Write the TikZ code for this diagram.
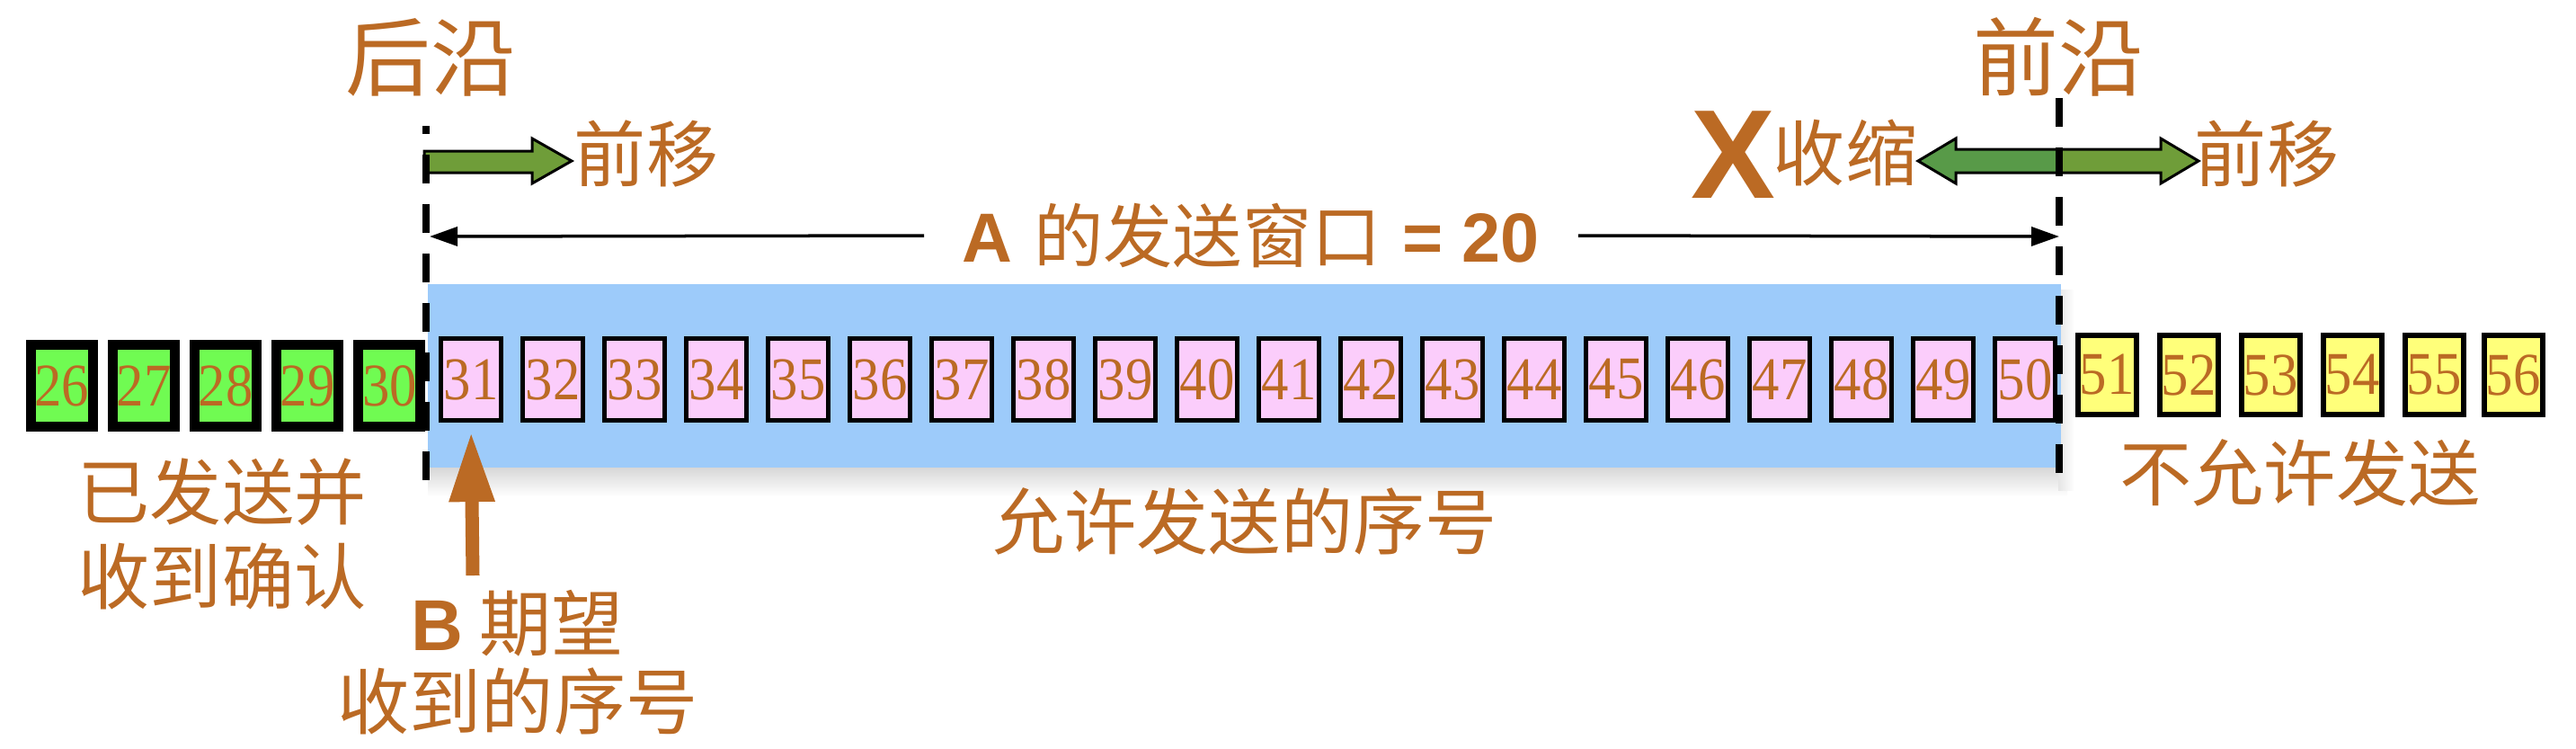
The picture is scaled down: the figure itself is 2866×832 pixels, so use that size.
\documentclass[tikz,border=0pt]{standalone}
\usepackage{fontspec}
\newfontfamily\cjk{Noto Sans CJK SC}
\newfontfamily\lat{Liberation Sans}
\newfontfamily\ser[FakeStretch=0.9]{Liberation Serif}
\usetikzlibrary{arrows.meta}
\definecolor{brn}{RGB}{187,106,36}
\definecolor{bluefill}{RGB}{157,203,250}
\definecolor{pfill}{RGB}{251,205,251}
\definecolor{yfill}{RGB}{255,255,122}
\definecolor{gfill}{RGB}{112,251,82}
\definecolor{agreen}{RGB}{111,157,57}
\definecolor{agreenb}{RGB}{88,154,72}
\begin{document}
\begin{tikzpicture}[x=0.01cm,y=-0.01cm,
  numbox/.style={draw=black, inner sep=0pt, text=brn, font=\ser\fontsize{19.2}{19.2}\selectfont},
  gbox/.style={numbox, fill=gfill, line width=0.11cm, minimum width=0.69cm, minimum height=0.91cm},
  pbox/.style={numbox, fill=pfill, line width=0.05cm, minimum width=0.67cm, minimum height=0.90cm},
  ybox/.style={numbox, fill=yfill, line width=0.06cm, minimum width=0.65cm, minimum height=0.87cm},
  lbl/.style={text=brn, inner sep=0pt, font=\cjk\fontsize{22.8}{26.7}\selectfont},
  biglbl/.style={text=brn, inner sep=0pt, font=\cjk\fontsize{27}{30}\selectfont},
  dashline/.style={draw=black, line width=0.08cm, dash pattern=on 0.32cm off 0.23cm},
  winarrow/.style={draw=black, line width=0.035cm, -{Triangle[length=0.31cm,width=0.21cm]}},
  blockarrow/.style={draw=black, line width=0.03cm, line join=miter},
  barrow/.style={draw=brn, line width=0.15cm, -{Triangle[length=0.78cm,width=0.47cm]}}
]
\useasboundingbox (0,0) rectangle (2866,832);

% window background with soft shadow
\shade[top color=black!18, bottom color=white] (476,515) rectangle (2300,552);
\shade[left color=black!10, right color=white] (2290,322) rectangle (2308,545);
\fill[bluefill] (476,316) rectangle (2293,520);

% sequence number boxes
\foreach \n [count=\i from 0] in {26,...,30}
  \node[gbox] (n\n) at ({69+91.1*\i},429) {\n};
\foreach \n [count=\i from 0] in {31,...,50}
  \node[pbox] (n\n) at ({524+91*\i},422) {\n};
\foreach \n/\xx in {51/2344,52/2435,53/2526,54/2617,55/2708,56/2796}
  \node[ybox] (n\n) at (\xx,417) {\n};

% block arrows (trailing edge forward)
\filldraw[blockarrow, fill=agreen] (472,168) -- (592,168) -- (592,154) -- (636,179)
  -- (592,204) -- (592,192) -- (472,192) -- cycle;

% double block arrow at leading edge
\fill[agreenb] (2291,166) -- (2176,166) -- (2176,154) -- (2134,179) -- (2176,204)
  -- (2176,192) -- (2291,192) -- cycle;
\fill[agreen] (2291,166) -- (2404,166) -- (2404,154) -- (2446,179) -- (2404,204)
  -- (2404,192) -- (2291,192) -- cycle;
\draw[blockarrow] (2176,166) -- (2404,166) -- (2404,154) -- (2446,179) -- (2404,204)
  -- (2404,192) -- (2176,192) -- (2176,204) -- (2134,179) -- (2176,154) -- cycle;

% dashed edges
\coordinate (ltop) at (474,140);
\coordinate (lbot) at (474,537);
\coordinate (rtop) at (2291,109);
\coordinate (rbot) at (2291,535);
\draw[dashline, dash phase=0.23cm] (ltop) -- (lbot);
\draw[dashline] (rtop) -- (rbot);

% labels
\node[biglbl] (houyan) at (479,64) {后沿};
\node[biglbl] (qianyan) at (2290,63) {前沿};
\node[lbl] (qy1) at (719,171) {前移};
\node[text=brn, inner sep=0pt, font=\lat\bfseries\fontsize{40}{40}\selectfont] (xmark) at (1928,172) {X};
\node[lbl] (shousuo) at (2053,170) {收缩};
\node[lbl] (qy2) at (2522,171) {前移};

% window size arrow
\node[text=brn, inner ysep=0pt, inner xsep=0.42cm, font=\fontsize{22}{26}\selectfont] (title) at (1392,262)
  {{\lat\bfseries A} {\cjk 的发送窗口} {\lat\bfseries = 20}};
\coordinate (wl) at (478,263);
\coordinate (wr) at (2291,263);
\draw[winarrow] (title.west) -- (wl);
\draw[winarrow] (title.east) -- (wr);

\node[lbl] (allowed) at (1385,580) {允许发送的序号};
\node[lbl] (notallowed) at (2559,526) {不允许发送};
\node[lbl, align=center] (acked) at (247,594) {已发送并\\收到确认};
\node[lbl, align=center, font=\cjk\fontsize{22.8}{24.8}\selectfont] (bexp) at (576,737)
  {{\lat\bfseries B} 期望\\收到的序号};

% B expects arrow
\coordinate (btail) at (526,640);
\draw[barrow, shorten >=0.105cm] (btail) -- (n31.south);
\end{tikzpicture}
\end{document}
